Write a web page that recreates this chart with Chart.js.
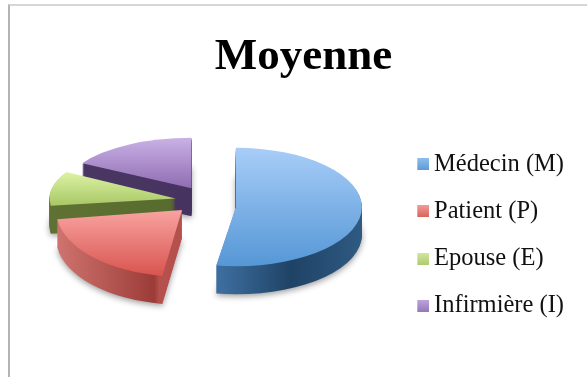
<!DOCTYPE html>
<html lang="fr">
<head>
  <meta charset="UTF-8">
  <title>Moyenne</title>
  <script src="https://cdn.jsdelivr.net/npm/chart.js"></script>
  <style>
    html, body { margin: 0; padding: 0; background: #fff; overflow: hidden; width: 587px; height: 377px; }
    #frame { position: absolute; left: 8px; top: 4px; width: 640px; height: 400px; border-left: 2px solid #b4b4b4; border-top: 2px solid #d6d6d6; }
    canvas { display: block; }
  </style>
</head>
<body>
  <div id="frame"><canvas id="chart" width="587" height="371"></canvas></div>

  <script>
    const categories = ["Médecin (M)", "Patient (P)", "Epouse (E)", "Infirmière (I)"];
    const values = [52.5, 20.3, 10.5, 16.7];
    const offsets = [29, 35, 32, 31];

    const topColors = [["#a8cdf8", "#5597d6"], ["#f8a3a0", "#d9544f"], ["#dcf2a4", "#a8c765"], ["#c9b1e5", "#8f6cb2"]];
    const sideColors = [
      [[0.44, "#3d6d9e"], [0.72, "#1f4365"], [1, "#2f5a82"]],
      [[0, "#d07470"], [0.39, "#9c3c38"], [0.41, "#b5504d"], [1, "#b5504d"]],
      [[0, "#5f7233"], [0.6, "#566a2e"], [1, "#4f6128"]],
      [[0, "#4a3763"], [0.6, "#46325f"], [1, "#3d2a58"]]
    ];
    const swatchColors = [["#8fbdec", "#5a9ad8"], ["#f09a96", "#d9605b"], ["#d2e8a0", "#b0cc72"], ["#bda6dc", "#9579ba"]];

    const squash = [0.47, 0.53, 0.42, 0.40];
    const shiftY = [8, -1, 3, 1];
    const depth = 28;
    const centerX = 197;
    const centerY = 192;

    // swatch sits on the right of a wider canvas so it ends closer to the label
    function makeSwatch(colors) {
      const c = document.createElement("canvas");
      c.width = 16;
      c.height = 12;
      const g = c.getContext("2d");
      const grad = g.createLinearGradient(0, 0, 0, 12);
      grad.addColorStop(0, colors[0]);
      grad.addColorStop(1, colors[1]);
      g.fillStyle = grad;
      g.fillRect(4, 0, 12, 12);
      return c;
    }
    const swatches = swatchColors.map(makeSwatch);

    // apex of an exploded slice, from the values the library computed
    function apex(arc) {
      const mid = (arc.startAngle + arc.endAngle) / 2;
      return { x: arc.x + Math.cos(mid) * arc.options.offset, y: arc.y + Math.sin(mid) * arc.options.offset };
    }

    function wedge(ctx, arc) {
      const p = apex(arc);
      ctx.beginPath();
      ctx.moveTo(p.x, p.y);
      ctx.arc(p.x, p.y, arc.outerRadius, arc.startAngle, arc.endAngle);
      ctx.closePath();
    }

    function place(ctx, arc, i, dy) {
      ctx.setTransform(1, 0, 0, 1, 0, 0);
      ctx.translate(centerX, centerY + shiftY[i] + dy);
      ctx.scale(1, squash[i]);
      ctx.translate(-arc.x, -arc.y);
    }

    // fake 3D: library arcs get flattened and stacked, back slices first
    const pie3d = {
      id: "pie3d",
      beforeDatasetsDraw(chart) {
        const ctx = chart.ctx;
        const arcs = chart.getDatasetMeta(0).data;
        [3, 2, 1, 0].forEach(i => {
          const arc = arcs[i];
          const p = apex(arc);
          const side = ctx.createLinearGradient(p.x - arc.outerRadius, 0, p.x + arc.outerRadius, 0);
          sideColors[i].forEach(s => side.addColorStop(s[0], s[1]));
          ctx.save();
          for (let dy = depth; dy > 0; dy--) {
            place(ctx, arc, i, dy);
            if (dy === depth) {
              ctx.shadowColor = "rgba(0,0,0,0.4)";
              ctx.shadowBlur = 6;
              ctx.shadowOffsetY = 2;
            } else {
              ctx.shadowColor = "transparent";
            }
            wedge(ctx, arc);
            ctx.fillStyle = side;
            ctx.fill();
          }
          place(ctx, arc, i, 0);
          let minY = p.y;
          let maxY = p.y;
          for (let t = 0; t <= 1; t += 0.02) {
            const a = arc.startAngle + (arc.endAngle - arc.startAngle) * t;
            const y = p.y + Math.sin(a) * arc.outerRadius;
            minY = Math.min(minY, y);
            maxY = Math.max(maxY, y);
          }
          const top = ctx.createLinearGradient(0, minY, 0, maxY);
          top.addColorStop(0, topColors[i][0]);
          top.addColorStop(1, topColors[i][1]);
          wedge(ctx, arc);
          ctx.fillStyle = top;
          ctx.fill();
          ctx.restore();
        });
        return false;
      }
    };

    new Chart(document.getElementById("chart"), {
      type: "pie",
      data: {
        labels: categories,
        datasets: [{
          data: values,
          offset: offsets,
          borderWidth: 0,
          backgroundColor: swatchColors.map(c => c[1])
        }]
      },
      options: {
        responsive: false,
        animation: false,
        radius: 126,
        layout: { padding: { left: 23, right: 23, top: 0, bottom: 0 } },
        plugins: {
          title: {
            display: true,
            text: "Moyenne",
            color: "#000",
            font: { family: "'Liberation Serif'", size: 45, weight: "bold" },
            padding: { top: 24, bottom: 9 }
          },
          legend: {
            position: "right",
            fullSize: false,
            labels: {
              usePointStyle: true,
              pointStyleWidth: 1,
              boxHeight: 12,
              padding: 22.6,
              color: "#111",
              font: { family: "'Liberation Serif'", size: 24.5 },
              generateLabels() {
                return categories.map((text, i) => ({ text, index: i, pointStyle: swatches[i], fontColor: "#111", lineWidth: 0, strokeStyle: "transparent", fillStyle: swatchColors[i][1] }));
              }
            }
          },
          tooltip: { enabled: false }
        }
      },
      plugins: [pie3d]
    });
  </script>
</body>
</html>
